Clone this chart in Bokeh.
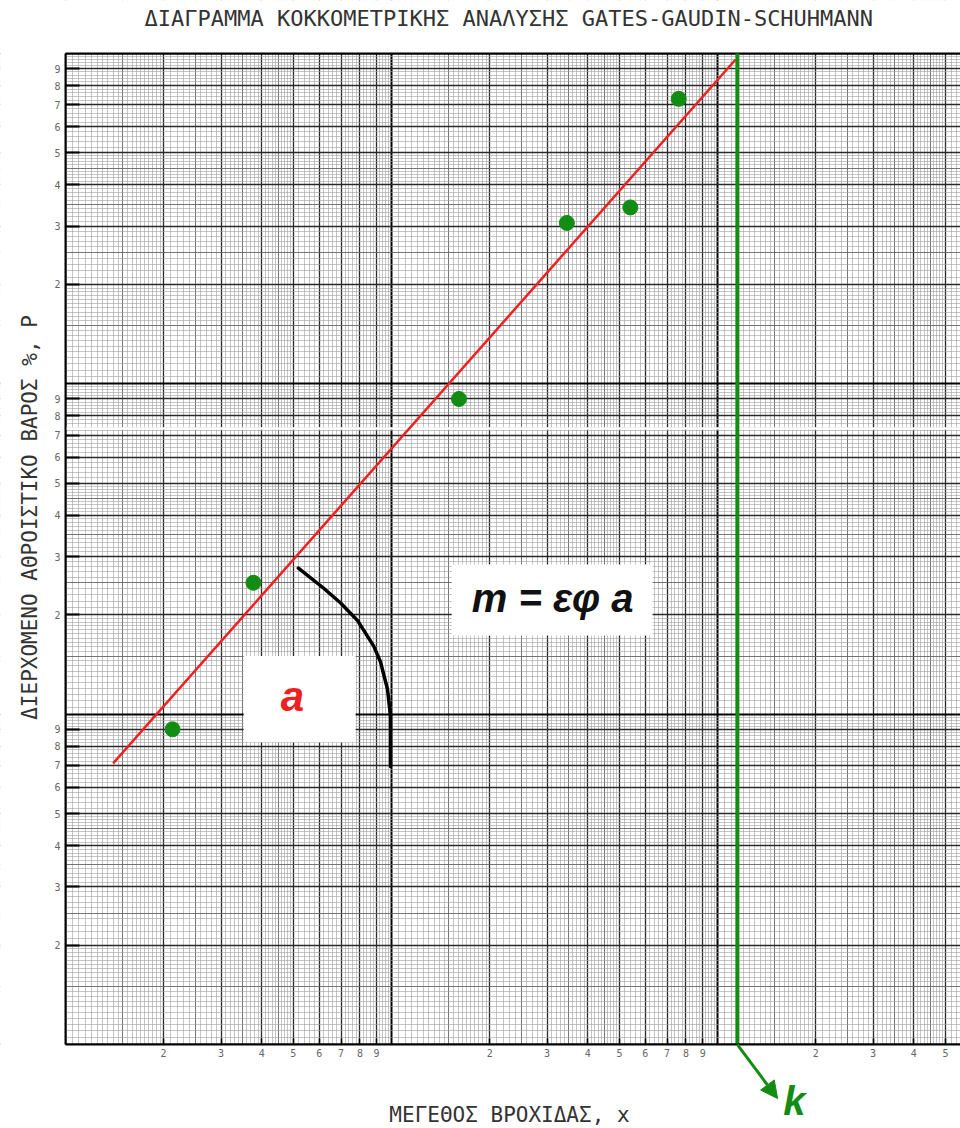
import numpy as np
from bokeh.plotting import figure
from bokeh.models import (Grid, FixedTicker, CustomJSTickFormatter, Span, BoxAnnotation,
                          Label, Arrow, NormalHead)
from bokeh.embed import file_html
from bokeh.resources import INLINE

# ---------------- data ----------------
sieve_size = [2.13, 3.77, 16.1, 34.5, 54.0, 76.0]        # x, mesh size
passing_pct = [0.90, 2.50, 9.00, 30.7, 34.2, 72.9]       # P, cumulative passing %
fit_x = [1.40, 113.6]                                    # fitted GGS line
fit_y = [0.71, 95.9]
k_size = 115.0                                           # size modulus k
arc_x = [5.18, 6.18, 6.98, 7.87, 8.81, 9.25, 9.72, 9.93, 9.93]   # angle marker
arc_y = [2.77, 2.41, 2.17, 1.92, 1.61, 1.44, 1.19, 0.986, 0.695]
tick_digits = [2, 3, 4, 5, 6, 7, 8, 9]
x_decades = [1, 10, 100]
y_decades = [0.1, 1, 10]
sheet_x = (1, 556)          # printed log sheet extent
sheet_y = (0.1, 100)
view_x = (0.632, 556)       # visible area incl. paper margin left of the sheet
view_y = (0.0557, 144.7)    # visible area incl. paper margins below / above the sheet

title_text = "ΔΙΑΓΡΑΜΜΑ ΚΟΚΚΟΜΕΤΡΙΚΗΣ ΑΝΑΛΥΣΗΣ GATES-GAUDIN-SCHUHMANN"
xlabel_text = "ΜΕΓΕΘΟΣ ΒΡΟΧΙΔΑΣ, x"
ylabel_text = "ΔΙΕΡΧΟΜΕΝΟ ΑΘΡΟΙΣΤΙΚΟ ΒΑΡΟΣ %, P"
slope_text = "m = εφ a"
angle_text = "a"
k_text = "k"

# annotation anchors (data units)
slope_box = dict(left=15.3, right=63.2, bottom=1.73, top=2.84)
slope_pos = (31.2, 2.25)
angle_box = dict(left=3.52, right=7.76, bottom=0.822, top=1.50)
angle_pos = (4.97, 1.135)
scan_seam_y = 7.33
k_arrow_end = (152.8, 0.0686)
k_label_pos = (159.0, 0.0677)
ylabel_pos = (0.781, 3.94)
xlabel_pos = (23.0, 0.0614)
title_pos = (22.9, 127.7)

GREEN = "#138c13"
RED = "#ee2020"
MONO = "DejaVu Sans Mono"

p = figure(frame_width=960, frame_height=1128, x_axis_type="log", y_axis_type="log",
           x_range=view_x, y_range=view_y,
           output_backend="svg", toolbar_location=None,
           min_border_left=0, min_border_right=0, min_border_top=0, min_border_bottom=0,
           background_fill_color="white", border_fill_color="white")
p.outline_line_color = None
p.xgrid.visible = False
p.ygrid.visible = False


def grid_levels(decades, hi):
    fine_steps = ([round(1 + 0.05 * i, 2) for i in range(1, 20)] +
                  [round(2 + 0.1 * i, 2) for i in range(1, 30)] +
                  [round(5 + 0.2 * i, 2) for i in range(1, 25)])
    mids = [1.5, 2.5, 3.5, 4.5]
    fine_steps = [v for v in fine_steps if v not in mids and abs(v - round(v)) > 1e-6]
    fine = [d * v for d in decades for v in fine_steps]
    mid = [d * v for d in decades for v in mids]
    main = [d * v for d in decades for v in tick_digits]
    dec = list(decades) + [decades[-1] * 10]
    f = lambda L: [t for t in L if t <= hi * 1.0001]
    return f(fine), f(mid), f(main), f(dec)


styles = [("#9e9e9e", 0.6, 1.0), ("#666666", 0.9, 1.0), ("#2a2a2a", 1.3, 1.0), ("#000000", 2.0, 1.0)]
for dim, decs, hi in ((0, x_decades, sheet_x[1]), (1, y_decades, sheet_y[1])):
    for ticks, (c, w, a) in zip(grid_levels(decs, hi), styles):
        p.add_layout(Grid(dimension=dim, ticker=FixedTicker(ticks=ticks),
                          grid_line_color=c, grid_line_width=w, grid_line_alpha=a))

# blank paper around the printed sheet
paper = dict(fill_color="white", fill_alpha=1.0, line_alpha=0, line_width=0, level="underlay")
p.add_layout(BoxAnnotation(top=sheet_y[0], bottom=view_y[0] / 2,
                           left=view_x[0] / 2, right=view_x[1] * 2, **paper))
p.add_layout(BoxAnnotation(bottom=sheet_y[1], top=view_y[1] * 2,
                           left=view_x[0] / 2, right=view_x[1] * 2, **paper))
p.add_layout(BoxAnnotation(right=sheet_x[0], left=view_x[0] / 2,
                           bottom=view_y[0] / 2, top=view_y[1] * 2, **paper))
# scan seam (white line across the sheet)
p.add_layout(Span(location=scan_seam_y, dimension="width", line_color="white",
                  line_width=2.5, level="underlay"))
# white text boxes
p.add_layout(BoxAnnotation(**slope_box, fill_color="white", fill_alpha=1.0,
                           line_alpha=0, level="underlay"))
p.add_layout(BoxAnnotation(**angle_box, fill_color="white", fill_alpha=1.0,
                           line_alpha=0, level="underlay"))

# top border of the sheet
p.segment(x0=[sheet_x[0]], y0=[sheet_y[1]], x1=[sheet_x[1]], y1=[sheet_y[1]],
          line_color="black", line_width=2)

# axes, pinned to the sheet edges
fmt = CustomJSTickFormatter(code="""
const e = Math.floor(Math.log10(tick) + 1e-9);
return String(Math.round(tick / Math.pow(10, e)));
""")
p.xaxis.ticker = FixedTicker(ticks=[d * i for d in x_decades for i in tick_digits if d * i <= sheet_x[1]])
p.yaxis.ticker = FixedTicker(ticks=[d * i for d in y_decades for i in tick_digits])
p.xaxis.fixed_location = sheet_y[0]
p.yaxis.fixed_location = sheet_x[0]
p.xaxis.bounds = sheet_x
p.yaxis.bounds = sheet_y
for ax in (p.xaxis, p.yaxis):
    ax.formatter = fmt
    ax.axis_line_color = "black"
    ax.axis_line_width = 2
    ax.major_tick_out = 0
    ax.major_tick_line_color = "black"
    ax.minor_tick_line_color = None
    ax.major_label_text_font = MONO
    ax.major_label_text_font_size = "10px"
    ax.major_label_text_color = "#666666"
p.xaxis.major_tick_in = 6
p.xaxis.major_tick_line_width = 1.5
p.yaxis.major_tick_in = 14
p.yaxis.major_tick_line_width = 2
p.xaxis.major_label_standoff = 4
p.yaxis.major_label_standoff = 5

# chart title and axis titles
p.add_layout(Label(x=title_pos[0], y=title_pos[1], text=title_text,
                   text_font=MONO, text_font_size="22px", text_color="#333333",
                   text_align="center", text_baseline="middle"))
p.add_layout(Label(x=ylabel_pos[0], y=ylabel_pos[1], text=ylabel_text, angle=np.pi / 2,
                   text_font=MONO, text_font_size="21px", text_color="#333333",
                   text_align="center", text_baseline="middle"))
p.add_layout(Label(x=xlabel_pos[0], y=xlabel_pos[1], text=xlabel_text,
                   text_font=MONO, text_font_size="21px", text_color="#333333",
                   text_align="center", text_baseline="middle"))

# data marks
p.line(fit_x, fit_y, line_color=RED, line_width=2.5)
p.scatter(sieve_size, passing_pct, size=15, fill_color=GREEN, line_color=GREEN)
p.line(arc_x, arc_y, line_color="black", line_width=3.5, line_join="round", line_cap="round")
p.segment(x0=[k_size], y0=[sheet_y[0]], x1=[k_size], y1=[sheet_y[1]], line_color=GREEN, line_width=4)
p.add_layout(Arrow(end=NormalHead(size=17, fill_color=GREEN, line_color=GREEN),
                   x_start=k_size, y_start=sheet_y[0], x_end=k_arrow_end[0], y_end=k_arrow_end[1],
                   line_color=GREEN, line_width=3))

# texts
p.add_layout(Label(x=slope_pos[0], y=slope_pos[1], text=slope_text, text_font="Liberation Sans",
                   text_font_style="bold italic", text_font_size="40px", text_color="#111111",
                   text_align="center", text_baseline="middle"))
p.add_layout(Label(x=angle_pos[0], y=angle_pos[1], text=angle_text, text_font="Liberation Sans",
                   text_font_style="bold italic", text_font_size="42px", text_color=RED,
                   text_align="center", text_baseline="middle"))
p.add_layout(Label(x=k_label_pos[0], y=k_label_pos[1], text=k_text, text_font="Liberation Sans",
                   text_font_style="bold italic", text_font_size="40px", text_color=GREEN,
                   text_align="left", text_baseline="middle"))

open("out.html", "w").write(file_html(p, INLINE))
